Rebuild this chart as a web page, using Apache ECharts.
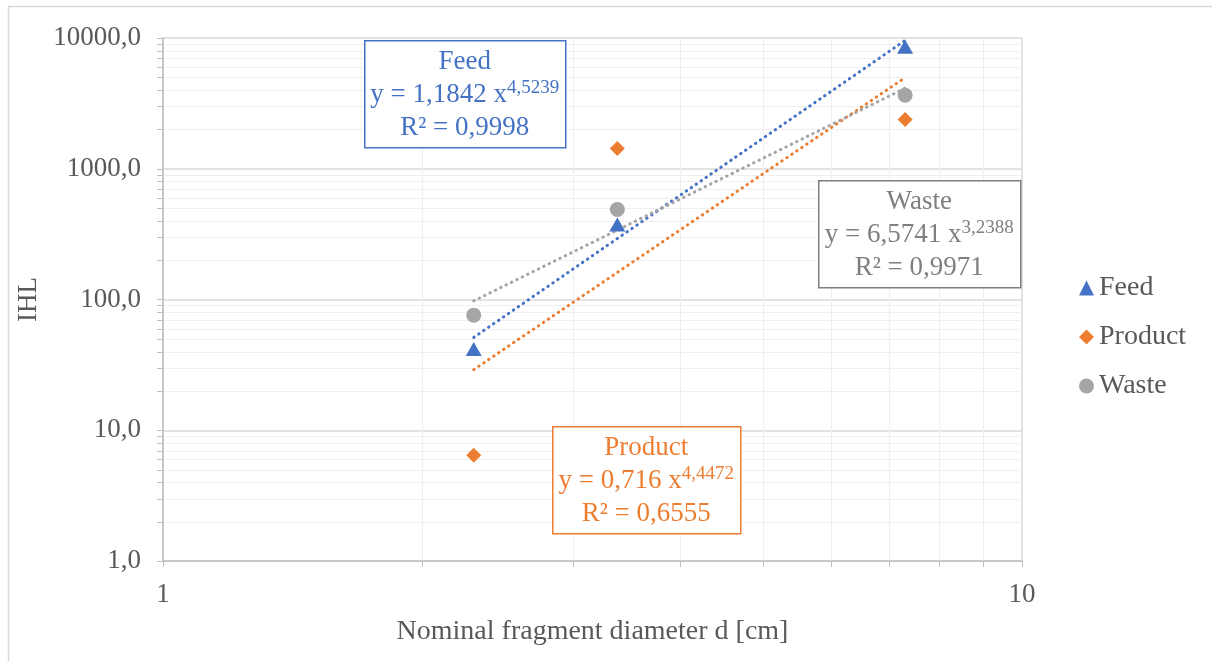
<!DOCTYPE html>
<html>
<head>
<meta charset="utf-8">
<script src="https://cdn.jsdelivr.net/npm/echarts@6/dist/echarts.min.js"></script>
<style>
  html, body { margin: 0; padding: 0; background: #fff; }
  #chart { width: 1212px; height: 661px; }
</style>
</head>
<body>
<div id="chart"></div>
<script>
// nominal fragment diameter d [cm]
const diameters = [2.3, 3.38, 7.31]
// IHL per stream
const feedValues = [41.8, 375, 8590]
const productValues = [6.44, 1429, 2384]
const wasteValues = [75.9, 488, 3656]
// power trendlines y = a * x^b, and R²
const feedFit = [1.1842, 4.5239, 0.9998]
const productFit = [0.716, 4.4472, 0.6555]
const wasteFit = [6.5741, 3.2388, 0.9971]

const seriesNames = ['Feed', 'Product', 'Waste']
const colors = ['#4472C4', '#ED7D31', '#A5A5A5']
const font = '"Liberation Serif", "DejaVu Serif", serif'
const textGray = '#595959'

// minor grid positions (2..9 in each decade)
const xMinor = []
const yMinor = []
for (let k = 2; k <= 9; k++) xMinor.push(k)
;[1, 10, 100, 1000].forEach(d => {
  for (let k = 2; k <= 9; k++) yMinor.push(k * d)
})

const comma = v => String(v).replace('.', ',')

function fitLine(fit) {
  const x0 = Math.min(...diameters)
  const x1 = Math.max(...diameters)
  return [[x0, fit[0] * Math.pow(x0, fit[1])], [x1, fit[0] * Math.pow(x1, fit[1])]]
}

function pairs(vals) {
  return diameters.map((d, i) => [d, vals[i]])
}

// equation box (annotation)
function eqBox(name, fit, color, border, x, y, w, h) {
  return {
    type: 'group',
    left: x,
    top: y,
    z: 100,
    children: [{
      type: 'rect',
      z: 100,
      shape: { x: 0.5, y: 0.5, width: w, height: h },
      style: { fill: '#fff', stroke: border, lineWidth: 1.5 }
    }, {
      type: 'text',
      z: 101,
      x: w / 2,
      y: h / 2 + 1,
      style: {
        text: '{t|' + name + '}\n{t|y = ' + comma(fit[0]) + ' x}{s|' + comma(fit[1]) + '}\n{t|R² = ' + comma(fit[2]) + '}',
        align: 'center',
        verticalAlign: 'middle',
        rich: {
          t: { fontSize: 27, lineHeight: 33, fontFamily: font, fill: color },
          s: { fontSize: 19, lineHeight: 24, verticalAlign: 'top', fontFamily: font, fill: color }
        }
      }
    }]
  }
}

const chart = echarts.init(document.getElementById('chart'))

const trendStyle = (c) => ({ color: c, width: 3, type: [0.5, 5.5], cap: 'round' })

chart.setOption({
  animation: false,
  backgroundColor: '#fff',
  grid: { left: 163, right: 190, top: 38, bottom: 100 },
  legend: {
    data: seriesNames,
    orient: 'vertical',
    left: 1074,
    top: 269,
    itemGap: 21,
    itemWidth: 15,
    itemHeight: 15,
    textStyle: { fontSize: 28, color: textGray, fontFamily: font }
  },
  xAxis: {
    type: 'log',
    logBase: 10,
    min: 1,
    max: 10,
    name: 'Nominal fragment diameter d [cm]',
    nameLocation: 'middle',
    nameGap: 57,
    nameTextStyle: { fontSize: 28, color: textGray, fontFamily: font, verticalAlign: 'top' },
    axisLine: { lineStyle: { color: '#bfbfbf', width: 1.5 } },
    axisTick: { show: true, length: 6, lineStyle: { color: '#bfbfbf' } },
    axisLabel: { fontSize: 27, color: textGray, fontFamily: font, margin: 20 },
    splitLine: { show: true, lineStyle: { color: '#d9d9d9', width: 1.5 } }
  },
  yAxis: {
    type: 'log',
    logBase: 10,
    min: 1,
    max: 10000,
    name: 'IHL',
    nameLocation: 'middle',
    nameGap: 120,
    nameTextStyle: { fontSize: 27, color: textGray, fontFamily: font },
    axisLine: { show: true, lineStyle: { color: '#bfbfbf', width: 1.5 } },
    axisTick: { show: true, length: 6, lineStyle: { color: '#bfbfbf' } },
    axisLabel: {
      fontSize: 27, color: textGray, fontFamily: font, margin: 22,
      formatter: v => v.toFixed(1).replace('.', ',')
    },
    splitLine: { show: true, lineStyle: { color: '#d9d9d9', width: 1.5 } }
  },
  graphic: [
    {
      type: 'rect',
      shape: { x: 8.5, y: 6.5, width: 1220, height: 670 },
      style: { fill: 'none', stroke: '#d9d9d9', lineWidth: 1.5 },
      silent: true
    },
    eqBox('Feed', feedFit, colors[0], colors[0], 364, 40, 201, 107),
    eqBox('Waste', wasteFit, '#7f7f7f', '#7f7f7f', 818, 180, 202, 107),
    eqBox('Product', productFit, colors[1], colors[1], 552, 426, 188, 107)
  ],
  series: [
    {
      // minor horizontal grid + left ticks
      type: 'custom',
      silent: true,
      z: 0,
      data: yMinor.map(v => [1, v]),
      renderItem: (params, api) => {
        const p0 = api.coord([1, api.value(1)])
        const p1 = api.coord([10, api.value(1)])
        const y = Math.round(p0[1]) + 0.5
        return {
          type: 'group',
          children: [
            { type: 'line', shape: { x1: p0[0], y1: y, x2: p1[0], y2: y }, style: { stroke: '#efefef', lineWidth: 1.2 } },
            { type: 'line', shape: { x1: p0[0] - 6, y1: y, x2: p0[0], y2: y }, style: { stroke: '#bfbfbf', lineWidth: 1 } }
          ]
        }
      }
    },
    {
      // minor vertical grid + bottom ticks
      type: 'custom',
      silent: true,
      z: 0,
      data: xMinor.map(v => [v, 1]),
      renderItem: (params, api) => {
        const p0 = api.coord([api.value(0), 1])
        const p1 = api.coord([api.value(0), 10000])
        const x = Math.round(p0[0]) + 0.5
        return {
          type: 'group',
          children: [
            { type: 'line', shape: { x1: x, y1: p0[1], x2: x, y2: p1[1] }, style: { stroke: '#efefef', lineWidth: 1.2 } },
            { type: 'line', shape: { x1: x, y1: p0[1], x2: x, y2: p0[1] + 6 }, style: { stroke: '#bfbfbf', lineWidth: 1 } }
          ]
        }
      }
    },
    {
      type: 'line', name: 'Feed trend', data: fitLine(feedFit), symbol: 'none',
      lineStyle: trendStyle(colors[0]), z: 2, silent: true
    },
    {
      type: 'line', name: 'Product trend', data: fitLine(productFit), symbol: 'none',
      lineStyle: trendStyle(colors[1]), z: 2, silent: true
    },
    {
      type: 'line', name: 'Waste trend', data: fitLine(wasteFit), symbol: 'none',
      lineStyle: trendStyle(colors[2]), z: 2, silent: true
    },
    {
      type: 'scatter', name: 'Feed', data: pairs(feedValues),
      symbol: 'triangle', symbolSize: [16, 14], itemStyle: { color: colors[0], opacity: 1 }, z: 3
    },
    {
      type: 'scatter', name: 'Product', data: pairs(productValues),
      symbol: 'diamond', symbolSize: 15, itemStyle: { color: colors[1], opacity: 1 }, z: 3
    },
    {
      type: 'scatter', name: 'Waste', data: pairs(wasteValues),
      symbol: 'circle', symbolSize: 15, itemStyle: { color: colors[2], opacity: 1 }, z: 3
    }
  ]
})
</script>
</body>
</html>
